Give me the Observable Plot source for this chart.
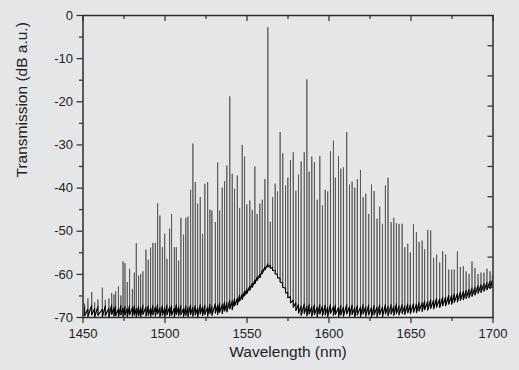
<!DOCTYPE html>
<html><head><meta charset="utf-8">
<script src="https://cdn.jsdelivr.net/npm/d3@7"></script>
<script src="https://cdn.jsdelivr.net/npm/@observablehq/plot@0.6"></script>
<style>
html,body{margin:0;padding:0;background:#e5e6e7;}
#chart{width:519px;height:370px;}
</style></head><body><div id="chart"></div>
<script>
// comb-line wavelengths (nm)
const wavelengths = [
1451.0,1453.0,1455.3,1457.1,1459.1,1461.8,1463.6,1465.8,1467.5,1468.9,
1469.9,1471.6,1473.1,1474.4,1475.6,1477.0,1478.4,1480.1,1481.3,1482.5,
1483.9,1485.1,1486.5,1488.4,1489.8,1491.2,1492.6,1494.1,1495.5,1496.9,
1498.4,1499.8,1501.2,1502.8,1504.0,1505.7,1506.9,1508.3,1509.7,1511.3,
1512.7,1514.0,1515.6,1517.0,1518.5,1519.9,1521.5,1522.9,1524.3,1526.0,
1527.4,1528.6,1530.7,1532.1,1533.3,1534.9,1536.3,1537.7,1539.5,1541.0,
1542.4,1544.1,1545.5,1547.1,1548.5,1549.9,1551.7,1553.2,1554.8,1556.2,
1557.8,1559.3,1560.9,1562.7,1564.2,1565.6,1567.2,1568.6,1570.2,1571.8,
1573.5,1574.9,1576.5,1578.2,1579.8,1581.4,1583.0,1584.9,1586.5,1587.9,
1589.5,1591.1,1592.8,1594.4,1596.0,1597.7,1599.2,1600.9,1602.7,1603.9,
1605.8,1607.2,1608.8,1610.8,1612.5,1614.1,1615.7,1617.3,1619.2,1620.8,
1622.4,1624.2,1625.9,1627.5,1629.3,1630.9,1632.6,1634.4,1636.0,1637.9,
1639.5,1641.1,1642.7,1644.6,1646.2,1648.0,1649.6,1651.5,1653.3,1654.9,
1656.8,1658.3,1660.2,1662.0,1663.8,1665.6,1667.5,1669.3,1671.1,1673.0,
1674.8,1676.4,1678.3,1680.1,1681.9,1683.6,1685.4,1687.2,1689.0,1690.9,
1692.7,1694.5,1696.3,1698.2,1699.6];
// peak transmission of each comb line (dB)
const peakDb = [
-66.8,-65.6,-64.1,-66.5,-65.8,-63.1,-65.9,-65.6,-64.3,-64.7,
-63.9,-62.8,-64.9,-57.0,-57.4,-61.8,-58.7,-63.4,-59.6,-52.8,
-60.3,-59.9,-59.3,-54.3,-56.6,-53.8,-52.7,-52.7,-43.5,-46.4,
-53.7,-50.6,-56.4,-49.4,-46.0,-53.7,-53.7,-56.8,-46.9,-50.8,
-46.9,-46.6,-40.4,-29.7,-38.6,-43.6,-42.1,-50.6,-39.0,-38.6,
-45.0,-45.2,-47.9,-34.1,-45.2,-39.9,-38.4,-34.8,-18.7,-36.7,
-40.2,-37.1,-44.6,-30.0,-32.7,-43.8,-42.9,-45.0,-35.0,-46.0,
-43.6,-42.7,-37.9,-2.7,-47.8,-42.1,-39.0,-40.8,-27.0,-31.9,
-39.4,-37.6,-33.5,-31.7,-40.6,-36.9,-33.8,-31.7,-14.8,-36.2,
-32.7,-34.0,-42.7,-32.6,-44.0,-40.4,-40.8,-31.5,-29.0,-37.6,
-32.6,-35.5,-35.2,-27.0,-39.2,-38.5,-39.9,-37.9,-35.8,-42.1,
-41.3,-46.0,-39.2,-40.7,-47.1,-44.3,-48.3,-39.4,-37.6,-47.9,
-46.9,-48.1,-48.3,-48.3,-53.7,-52.9,-54.9,-48.4,-50.2,-52.5,
-52.2,-54.2,-49.7,-49.8,-56.2,-55.4,-57.2,-54.6,-55.4,-58.9,
-58.9,-58.9,-54.7,-58.3,-58.1,-59.3,-59.9,-57.0,-58.5,-59.9,
-59.6,-59.6,-58.7,-59.3,-60.3];
// noise floor just before each line (dB)
const floorDb = [
-67.6,-68.0,-67.2,-67.9,-67.4,-68.1,-67.3,-67.8,-67.1,-67.7,
-67.5,-68.0,-67.2,-67.8,-67.4,-67.9,-67.2,-67.7,-67.3,-67.9,
-67.4,-67.8,-67.1,-67.6,-67.3,-67.9,-67.2,-67.6,-67.0,-67.7,
-67.3,-67.8,-67.1,-67.6,-67.2,-67.8,-67.0,-67.5,-67.2,-67.9,
-67.3,-67.7,-67.1,-67.6,-67.2,-67.8,-67.0,-67.5,-67.1,-67.6,
-66.9,-67.4,-66.8,-67.2,-66.6,-67.0,-66.4,-66.6,-66.0,-66.2,
-65.6,-65.6,-64.8,-64.6,-63.9,-63.4,-62.7,-62.1,-61.3,-60.6,
-60.0,-59.1,-58.3,-57.6,-57.9,-58.4,-59.1,-60.0,-60.9,-62.0,
-63.2,-64.2,-65.2,-66.0,-66.6,-67.0,-67.3,-66.9,-67.4,-67.0,
-67.5,-67.1,-67.6,-67.0,-67.4,-67.1,-67.6,-67.0,-67.5,-67.1,
-67.7,-67.2,-67.6,-67.0,-67.5,-67.1,-67.7,-67.2,-67.6,-67.0,
-67.5,-67.1,-67.7,-67.2,-67.6,-67.1,-67.6,-67.0,-67.4,-67.0,
-67.4,-66.9,-67.3,-67.0,-67.3,-66.9,-67.1,-66.8,-66.9,-66.5,
-66.6,-66.2,-66.3,-65.9,-66.0,-65.6,-65.7,-65.3,-65.3,-64.9,
-64.9,-64.5,-64.5,-64.1,-64.0,-63.7,-63.5,-63.2,-63.0,-62.6,
-62.4,-62.1,-61.9,-61.6,-61.4];
// dip of the trace just after each line (dB)
const dipDb = [
-69.6,-69.8,-69.4,-69.9,-69.5,-69.8,-69.6,-69.9,-69.3,-69.7,
-69.6,-69.9,-69.4,-69.8,-69.5,-69.9,-69.4,-69.7,-69.5,-69.8,
-69.6,-69.9,-69.3,-69.7,-69.5,-69.8,-69.4,-69.7,-69.2,-69.8,
-69.5,-69.9,-69.4,-69.7,-69.5,-69.9,-69.3,-69.6,-69.4,-69.8,
-69.5,-69.8,-69.3,-69.7,-69.4,-69.9,-69.2,-69.6,-69.3,-69.7,
-69.1,-69.5,-69.0,-69.3,-68.8,-69.1,-68.5,-68.7,-68.0,-68.2,
-67.3,-67.1,-66.2,-65.8,-65.0,-64.5,-63.7,-63.0,-62.2,-61.4,
-60.8,-59.8,-59.0,-58.3,-58.6,-59.1,-59.9,-60.8,-61.8,-63.0,
-64.3,-65.4,-66.6,-67.6,-68.4,-69.0,-69.5,-69.1,-69.6,-69.2,
-69.7,-69.3,-69.8,-69.2,-69.6,-69.4,-69.8,-69.1,-69.6,-69.3,
-69.9,-69.4,-69.7,-69.2,-69.7,-69.3,-69.9,-69.4,-69.8,-69.2,
-69.7,-69.4,-69.9,-69.4,-69.8,-69.3,-69.8,-69.2,-69.6,-69.2,
-69.5,-69.1,-69.4,-69.1,-69.3,-68.9,-69.1,-68.8,-68.9,-68.5,
-68.6,-68.2,-68.3,-67.9,-68.0,-67.6,-67.7,-67.3,-67.3,-66.9,
-66.9,-66.5,-66.4,-66.0,-65.9,-65.6,-65.4,-65.1,-64.8,-64.4,
-64.2,-63.9,-63.6,-63.3,-63.1];

const xTicks = [1450,1500,1550,1600,1650,1700];
const xMinorTicks = [1475,1525,1575,1625,1675];
const yTicks = [0,-10,-20,-30,-40,-50,-60,-70];
const yMinorTicks = [-5,-15,-25,-35,-45,-55,-65];
const rightTicks = [-7,-14,-21,-28,-35,-42,-49,-56,-63];
const xLabel = "Wavelength (nm)";
const yLabel = "Transmission (dB a.u.)";

const trace = [];
const floorTrace = [];
wavelengths.forEach((w, i) => {
  trace.push({w, db: floorDb[i]}, {w, db: peakDb[i]}, {w, db: dipDb[i]});
  floorTrace.push({w, db: floorDb[i]}, {w, db: dipDb[i]});
});

const W = 519, H = 370, mL = 82.5, mR = 26.5, mT = 15, mB = 53;
const plotW = W - mL - mR, plotH = H - mT - mB;
const ink = "#2b2b2b";
const plain = d => String(d);

const chart = Plot.plot({
  width: W, height: H,
  marginLeft: mL, marginRight: mR, marginTop: mT, marginBottom: mB,
  style: {background: "transparent", fontFamily: "'Liberation Sans', Arial, sans-serif", fontSize: "13px", color: "#222"},
  x: {domain: [1450, 1700]},
  y: {domain: [-70, 0]},
  marks: [
    Plot.line(trace, {x: "w", y: "db", stroke: "#555", strokeWidth: 0.85, clip: true}),
    Plot.line(floorTrace, {x: "w", y: "db", stroke: "#000", strokeWidth: 1.05, clip: true}),
    Plot.frame({stroke: ink, strokeWidth: 1.5}),
    Plot.axisX({ticks: xTicks, tickFormat: plain, tickSize: 6, tickPadding: 5, label: null, stroke: ink, strokeWidth: 1.2, fontSize: 13}),
    Plot.axisX({ticks: xMinorTicks, tickSize: 4, tickFormat: () => "", label: null, stroke: ink, strokeWidth: 1.2}),
    Plot.axisY({ticks: yTicks, tickFormat: plain, tickSize: 6, tickPadding: 4, label: null, stroke: ink, strokeWidth: 1.2, fontSize: 13}),
    Plot.axisY({ticks: yMinorTicks, tickSize: 3.5, tickFormat: () => "", label: null, stroke: ink, strokeWidth: 1.2}),
    Plot.tickX(xTicks, {x: d => d, insetBottom: plotH - 6, stroke: ink, strokeWidth: 1.2}),
    Plot.tickX(xMinorTicks, {x: d => d, insetBottom: plotH - 4, stroke: ink, strokeWidth: 1.2}),
    Plot.tickY(rightTicks, {y: d => d, insetLeft: plotW - 5, stroke: ink, strokeWidth: 1.2}),
    Plot.text([yLabel], {text: d => d, frameAnchor: "left", dx: -60.5, dy: 11, rotate: -90, fontSize: 15.5, fill: "#222"}),
    Plot.text([xLabel], {text: d => d, frameAnchor: "bottom", dy: 39, fontSize: 15.5, fill: "#222"})
  ]
});
document.getElementById("chart").append(chart);
</script></body></html>
